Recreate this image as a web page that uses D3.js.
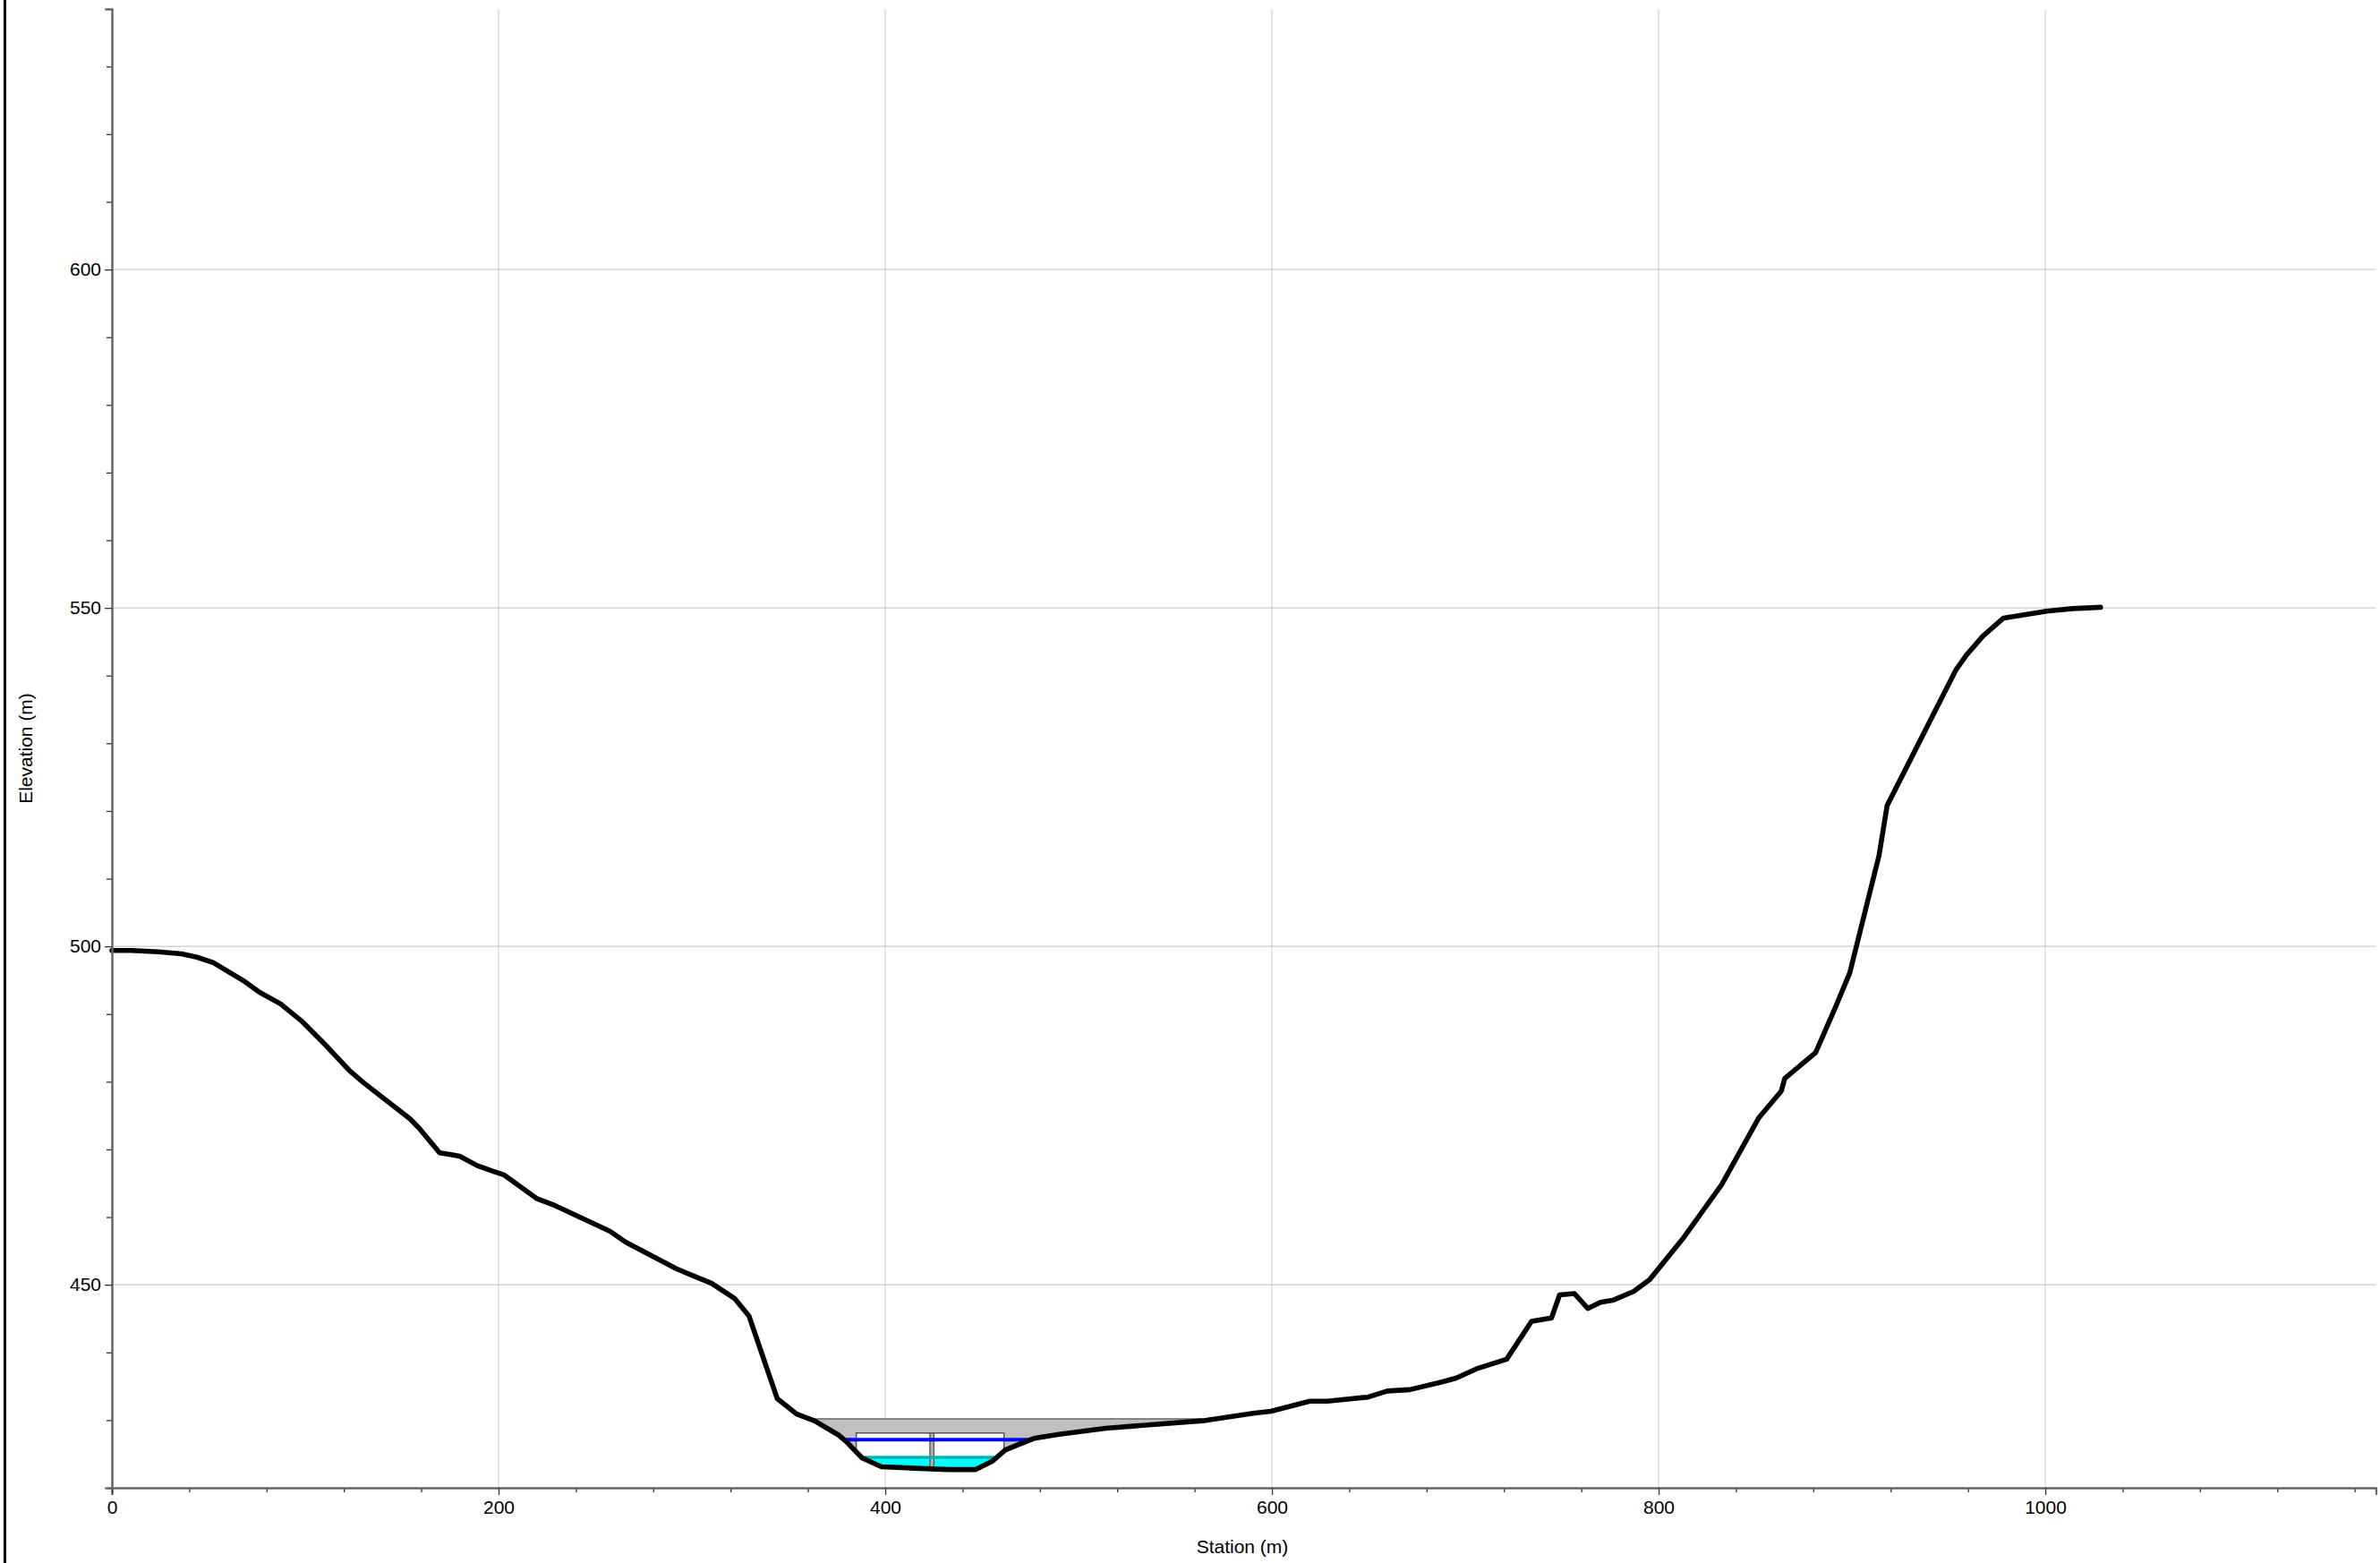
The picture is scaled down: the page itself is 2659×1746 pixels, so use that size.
<!DOCTYPE html>
<html><head><meta charset="utf-8">
<script src="https://cdn.jsdelivr.net/npm/d3@7"></script>
<style>html,body{margin:0;padding:0;background:#fff}svg{display:block}text{font-family:"Liberation Sans",Arial,sans-serif;fill:#000}</style>
</head><body><div id="chart"></div>
<script>
const stations=[0,10,24,36,44,52.5,68.7,76.4,87.2,98,111.9,122.7,130.4,154.3,159,169.5,179.8,189,196.8,203,220,229.2,257.7,265.7,291.7,310.2,322,329.5,344.1,354.2,363.4,375.8,379.6,388.1,398.1,423.6,432.9,446.8,455.2,462.2,469.9,476.9,490,514,564,590.3,599.5,619.6,628.7,649.7,659.7,671.3,687.5,695.2,706,721.4,734.3,744.6,748.8,756.5,763.4,770,776.2,787,795.5,812.5,832.6,851.9,863.4,865.3,881.2,891.2,898.9,914,918.2,953.7,959.1,967.6,978.4,1000,1014,1028.6];
const elevations=[499.4,499.4,499.2,498.9,498.4,497.6,494.8,493.2,491.5,489,485,481.7,479.8,474.5,473.1,469.5,469,467.6,466.8,466.2,462.7,461.7,457.9,456.3,452.4,450.2,448,445.4,433.2,430.9,429.9,427.8,426.9,424.4,423.1,422.8,422.7,422.7,423.9,425.6,426.5,427.3,427.9,428.8,429.9,431,431.3,432.8,432.8,433.4,434.3,434.5,435.6,436.2,437.6,439,444.6,445.1,448.5,448.7,446.5,447.4,447.7,449,450.8,456.8,464.8,474.7,478.6,480.5,484.3,490.8,496.1,513.4,520.8,540.8,543,545.8,548.5,549.5,549.9,550.1];
const xTickMajor=[0,200,400,600,800,1000];
const xTickMinor=[40,80,120,160,240,280,320,360,440,480,520,560,640,680,720,760,840,880,920,960,1040,1080,1120,1160];
const yTickMajor=[450,500,550,600];
const yTickMinor=[420,430,440,460,470,480,490,510,520,530,540,560,570,580,590,610,620,630];
const bridgeDeck={top:430.2,from:363.4,to:564};
const bridgeOpening={top:428.1,from:385,to:461.4};
const pier={from:423.1,to:425.2};
const waterSurface={elev:427.1,from:378.9,to:475.7};
const flowSurface={elev:424.5,from:388.9,to:457.6};
const xTitle="Station (m)", yTitle="Elevation (m)";

const W=2659,H=1746;
const svg=d3.select("#chart").append("svg").attr("width",W).attr("height",H);
const x=d3.scaleLinear().domain([0,1171]).range([125,2654.4]);
const y=d3.scaleLinear().domain([420,638.5]).range([1662,10]);
const terrain=stations.map((s,i)=>[s,elevations[i]]);
const groundAt=d3.scaleLinear().domain(stations).range(elevations);
const line=d3.line().x(d=>x(d[0])).y(d=>y(d[1]));

// frame
svg.append("line").attr("x1",5.5).attr("x2",5.5).attr("y1",0).attr("y2",H).attr("stroke","#000").attr("stroke-width",3);

// grid
svg.append("g").selectAll("line").data(xTickMajor.slice(1)).join("line")
  .attr("x1",d=>x(d)).attr("x2",d=>x(d)).attr("y1",y.range()[1]).attr("y2",y.range()[0])
  .attr("stroke","#d6d6d6").attr("stroke-width",1.3);
svg.append("g").selectAll("line").data(yTickMajor).join("line")
  .attr("x1",x.range()[0]).attr("x2",x.range()[1]).attr("y1",d=>y(d)).attr("y2",d=>y(d))
  .attr("stroke","#cccccc").attr("stroke-width",1.2);

// polygon bounded above by a level and below by the terrain between two stations
function under(level,from,to){
  const inner=terrain.filter(d=>d[0]>from&&d[0]<to);
  return [[from,level],[to,level],[to,groundAt(to)],...inner.slice().reverse(),[from,groundAt(from)]];
}
const poly=pts=>line(pts)+"Z";

// deck (grey) fill
svg.append("path").attr("d",poly(under(bridgeDeck.top,bridgeDeck.from,bridgeDeck.to))).attr("fill","#c0c0c0");
svg.append("line").attr("x1",x(bridgeDeck.from)).attr("x2",x(bridgeDeck.to))
  .attr("y1",y(bridgeDeck.top)).attr("y2",y(bridgeDeck.top)).attr("stroke","#666").attr("stroke-width",1.5);
// opening
svg.append("path").attr("d",poly(under(bridgeOpening.top,bridgeOpening.from,bridgeOpening.to))).attr("fill","#fff");
// water
svg.append("path").attr("d",poly(under(flowSurface.elev,flowSurface.from,flowSurface.to))).attr("fill","#00ffff");
// opening outline
svg.append("path").attr("d",line([[bridgeOpening.from,groundAt(bridgeOpening.from)],[bridgeOpening.from,bridgeOpening.top],[bridgeOpening.to,bridgeOpening.top],[bridgeOpening.to,groundAt(bridgeOpening.to)]]))
  .attr("fill","none").attr("stroke","#555").attr("stroke-width",1.5);
// pier
svg.append("path").attr("d",poly(under(bridgeOpening.top,pier.from,pier.to))).attr("fill","#b0b0b0").attr("stroke","#555").attr("stroke-width",1.3);
// flow surface line
svg.append("line").attr("x1",x(flowSurface.from)).attr("x2",x(flowSurface.to))
  .attr("y1",y(flowSurface.elev)).attr("y2",y(flowSurface.elev)).attr("stroke","#00b4b4").attr("stroke-width",3.5).attr("stroke-linecap","round");
// water surface line
svg.append("line").attr("x1",x(waterSurface.from)).attr("x2",x(waterSurface.to))
  .attr("y1",y(waterSurface.elev)).attr("y2",y(waterSurface.elev)).attr("stroke","#0000f0").attr("stroke-width",4).attr("stroke-linecap","round");
// terrain
svg.append("path").attr("d",line(terrain)).attr("fill","none").attr("stroke","#000").attr("stroke-width",5.6).attr("stroke-linejoin","round").attr("stroke-linecap","round");

// axes
const fmt=d3.format("d");
const xAxisMinor=d3.axisBottom(x).tickValues(xTickMinor).tickSize(5).tickFormat("");
const xAxisMajor=d3.axisBottom(x).tickValues(xTickMajor).tickSize(8).tickPadding(6).tickFormat(fmt);
const yAxisMinor=d3.axisLeft(y).tickValues(yTickMinor).tickSize(6).tickFormat("");
const yAxisMajor=d3.axisLeft(y).tickValues(yTickMajor).tickSize(8).tickPadding(4).tickFormat(fmt);
function style(g){
  g.attr("font-family",null).attr("font-size",null);
  g.selectAll("line").attr("stroke","#333").attr("stroke-width",1.3);
  g.selectAll(".domain").attr("stroke","#666").attr("stroke-width",2);
  g.selectAll("text").attr("font-size",21).attr("fill","#000");
}
svg.append("g").attr("transform",`translate(0,${y(420)})`).call(xAxisMinor).call(style);
svg.append("g").attr("transform",`translate(0,${y(420)})`).call(xAxisMajor).call(style);
svg.append("g").attr("transform",`translate(${x(0)},0)`).call(yAxisMinor).call(style);
svg.append("g").attr("transform",`translate(${x(0)},0)`).call(yAxisMajor).call(style);

// titles
svg.append("text").attr("x",1388).attr("y",1735).attr("text-anchor","middle").attr("font-size",21).text(xTitle);
svg.append("text").attr("transform","translate(36,836) rotate(-90)").attr("text-anchor","middle").attr("font-size",21).text(yTitle);
</script></body></html>
